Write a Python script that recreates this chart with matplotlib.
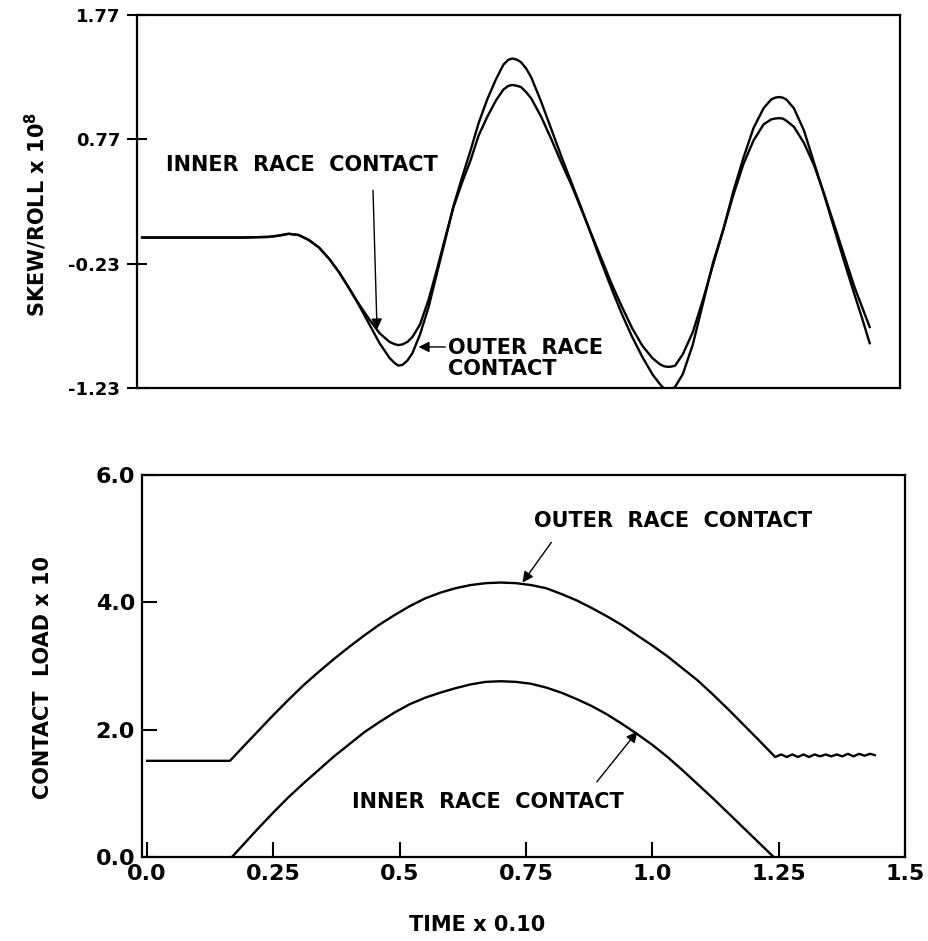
import matplotlib
matplotlib.use('Agg')
import matplotlib.pyplot as plt

plt.rcParams['font.family'] = ['DejaVu Sans']
plt.rcParams['mathtext.default'] = 'regular'

# ---- top panel: skew/roll vs time ----
t_skew = [0.0, 0.1, 0.2, 0.25, 0.27, 0.29, 0.31, 0.33, 0.35, 0.37, 0.39, 0.41, 0.43, 0.45, 0.47, 0.49,
          0.50, 0.507, 0.515, 0.525, 0.535, 0.55, 0.567, 0.584, 0.60, 0.616, 0.633, 0.65, 0.666, 0.683,
          0.70, 0.715, 0.725, 0.733, 0.742, 0.75, 0.76, 0.77, 0.79, 0.81, 0.83, 0.85, 0.87, 0.89, 0.91,
          0.93, 0.95, 0.97, 0.99, 1.01, 1.025, 1.033, 1.04, 1.048, 1.055, 1.07, 1.09, 1.11, 1.13, 1.15,
          1.17, 1.19, 1.21, 1.23, 1.245, 1.253, 1.26, 1.268, 1.275, 1.29, 1.31, 1.33, 1.35, 1.37, 1.39,
          1.41, 1.425, 1.44]
skew_outer = [-0.02, -0.02, -0.02, -0.015, -0.005, 0.01, 0.0, -0.04, -0.10, -0.19, -0.30, -0.43, -0.57, -0.72, -0.87, -0.99,
              -1.03, -1.05, -1.045, -1.01, -0.95, -0.80, -0.58, -0.30, -0.04, 0.23, 0.46, 0.68, 0.90, 1.09,
              1.25, 1.37, 1.41, 1.42, 1.41, 1.39, 1.34, 1.27, 1.07, 0.85, 0.63, 0.42, 0.21, -0.01, -0.23,
              -0.44, -0.64, -0.82, -0.98, -1.12, -1.20, -1.235, -1.25, -1.24, -1.22, -1.12, -0.88, -0.55, -0.22, 0.04,
              0.35, 0.62, 0.86, 1.02, 1.09, 1.105, 1.11, 1.105, 1.09, 1.02, 0.84, 0.58, 0.32, 0.05, -0.22,
              -0.48, -0.67, -0.87]
skew_inner = [-0.02, -0.02, -0.02, -0.015, -0.005, 0.01, 0.0, -0.04, -0.10, -0.19, -0.30, -0.43, -0.56, -0.68, -0.79, -0.86,
              -0.878, -0.885, -0.88, -0.86, -0.82, -0.72, -0.52, -0.27, -0.02, 0.22, 0.42, 0.60, 0.80, 0.95,
              1.08, 1.17, 1.20, 1.207, 1.20, 1.19, 1.15, 1.10, 0.95, 0.77, 0.58, 0.40, 0.20, 0.0, -0.20,
              -0.40, -0.58, -0.75, -0.89, -0.99, -1.04, -1.055, -1.06, -1.058, -1.05, -0.96, -0.78, -0.52, -0.24, 0.04,
              0.32, 0.57, 0.76, 0.89, 0.93, 0.937, 0.94, 0.937, 0.92, 0.87, 0.74, 0.56, 0.33, 0.08, -0.17,
              -0.42, -0.58, -0.74]

# ---- bottom panel: contact load vs time ----
t_load_outer = [0.0, 0.164, 0.19, 0.22, 0.25, 0.28, 0.31, 0.34, 0.37, 0.40, 0.43, 0.46, 0.49, 0.52, 0.55,
                0.58, 0.61, 0.64, 0.67, 0.70, 0.73, 0.76, 0.79, 0.82, 0.85, 0.88, 0.91, 0.94, 0.97, 1.00,
                1.03, 1.06, 1.09, 1.12, 1.15, 1.18, 1.21, 1.243, 1.255, 1.266, 1.277, 1.288, 1.299, 1.310,
                1.321, 1.332, 1.343, 1.354, 1.365, 1.376, 1.387, 1.398, 1.409, 1.420, 1.431, 1.44]
load_outer = [1.51, 1.51, 1.73, 1.98, 2.23, 2.47, 2.70, 2.91, 3.11, 3.30, 3.48, 3.65, 3.80, 3.94, 4.06,
              4.15, 4.22, 4.27, 4.30, 4.31, 4.30, 4.27, 4.22, 4.13, 4.03, 3.91, 3.78, 3.64, 3.48, 3.32,
              3.15, 2.96, 2.77, 2.55, 2.32, 2.08, 1.84, 1.57, 1.61, 1.57, 1.61, 1.57, 1.61, 1.57,
              1.61, 1.58, 1.61, 1.58, 1.61, 1.58, 1.62, 1.58, 1.62, 1.59, 1.62, 1.60]
t_load_inner = [0.168, 0.19, 0.22, 0.25, 0.28, 0.31, 0.34, 0.37, 0.40, 0.43, 0.46, 0.49, 0.52, 0.55, 0.58,
                0.61, 0.64, 0.67, 0.70, 0.73, 0.76, 0.79, 0.82, 0.85, 0.88, 0.91, 0.94, 0.97, 1.00, 1.03,
                1.06, 1.09, 1.12, 1.15, 1.18, 1.21, 1.24]
load_inner = [0.0, 0.19, 0.45, 0.70, 0.94, 1.16, 1.37, 1.58, 1.77, 1.96, 2.12, 2.27, 2.40, 2.50, 2.58,
              2.65, 2.71, 2.75, 2.76, 2.75, 2.72, 2.66, 2.58, 2.48, 2.37, 2.24, 2.09, 1.93, 1.76, 1.57,
              1.36, 1.14, 0.92, 0.69, 0.46, 0.23, 0.0]

skew_ticks = [1.77, 0.77, -0.23, -1.23]
load_ticks = [0.0, 2.0, 4.0, 6.0]
time_ticks = [0.0, 0.25, 0.5, 0.75, 1.0, 1.25, 1.5]
time_labels = ['0.0', '0.25', '0.5', '0.75', '1.0', '1.25', '1.5']

fig = plt.figure(figsize=(9.29, 9.41), dpi=100)
note = dict(fontsize=15, fontweight='bold')
arrow = dict(arrowstyle='-|>', color='black', lw=1.0, mutation_scale=16, shrinkA=0, shrinkB=0)

# top
ax1 = fig.add_axes([0.1475, 0.5877, 0.8213, 0.3964])
ax1.plot(t_skew, skew_outer, color='black', lw=1.7)
ax1.plot(t_skew, skew_inner, color='black', lw=1.7)
ax1.set_xlim(-0.01, 1.5)
ax1.set_ylim(-1.23, 1.77)
ax1.set_yticks(skew_ticks)
ax1.set_yticklabels(['%.2f' % v for v in skew_ticks], fontsize=13, fontweight='bold')
ax1.set_xticks([])
ax1.tick_params(axis='y', direction='inout', length=14, width=1.5, pad=5)
ax1.set_ylabel('SKEW/ROLL x 10$^{8}$', fontsize=15, fontweight='bold')
ax1.yaxis.set_label_coords(-0.116, 0.465)
ax1.text(0.317, 0.56, 'INNER  RACE  CONTACT', ha='center', va='center', **note)
ax1.annotate('', xy=(0.465, -0.76), xytext=(0.457, 0.36), arrowprops=arrow)
ax1.text(0.606, -0.99, 'OUTER  RACE\nCONTACT', ha='left', va='center', linespacing=1.05, **note)
ax1.annotate('', xy=(0.547, -0.90), xytext=(0.600, -0.90), arrowprops=arrow)

# bottom
ax2 = fig.add_axes([0.1529, 0.0893, 0.8213, 0.406])
ax2.plot(t_load_outer, load_outer, color='black', lw=1.7)
ax2.plot(t_load_inner, load_inner, color='black', lw=1.7)
ax2.set_xlim(-0.01, 1.5)
ax2.set_ylim(0, 6)
ax2.set_yticks(load_ticks)
ax2.set_yticklabels(['%.1f' % v for v in load_ticks], fontsize=16, fontweight='bold')
ax2.set_xticks(time_ticks)
ax2.set_xticklabels(time_labels, fontsize=16, fontweight='bold')
ax2.tick_params(direction='in', length=11, width=1.5, pad=5)
ax2.set_ylabel('CONTACT  LOAD x 10', fontsize=15, fontweight='bold')
ax2.yaxis.set_label_coords(-0.117, 0.47)
ax2.set_xlabel('TIME x 0.10', fontsize=15, fontweight='bold')
ax2.xaxis.set_label_coords(0.439, -0.152)
ax2.text(1.04, 5.27, 'OUTER  RACE  CONTACT', ha='center', va='center', **note)
ax2.annotate('', xy=(0.743, 4.31), xytext=(0.80, 4.94), arrowprops=arrow)
ax2.text(0.675, 0.87, 'INNER  RACE  CONTACT', ha='center', va='center', **note)
ax2.annotate('', xy=(0.97, 1.97), xytext=(0.89, 1.18), arrowprops=arrow)

for ax in (ax1, ax2):
    for s in ax.spines.values():
        s.set_linewidth(1.6)

fig.savefig('out.png', dpi=100, facecolor='white')
